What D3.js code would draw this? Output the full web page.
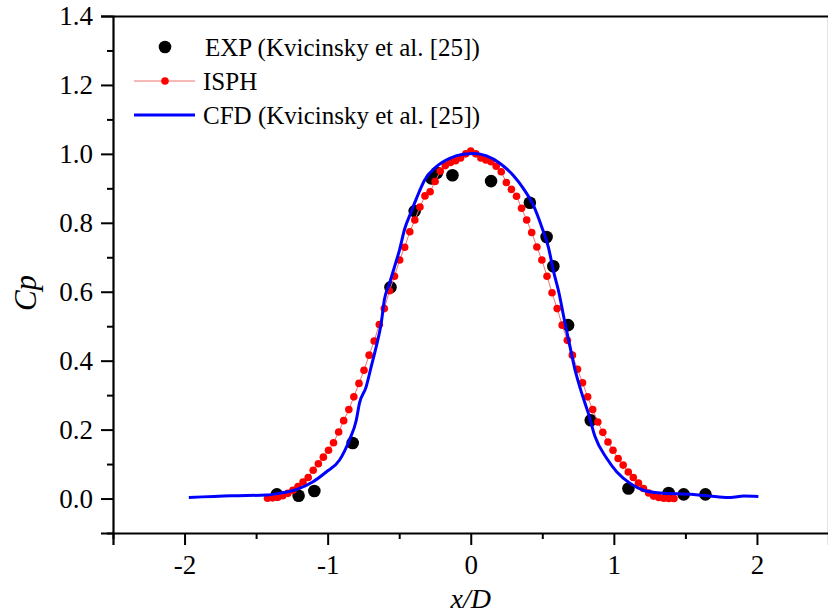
<!DOCTYPE html>
<html>
<head>
<meta charset="utf-8">
<script src="https://cdn.jsdelivr.net/npm/d3@7"></script>
<style>
  html, body { margin: 0; padding: 0; background: #fff; }
  svg { display: block; }
  text { font-family: "Liberation Serif", "Times New Roman", serif; fill: #000; }
</style>
</head>
<body>
<svg id="chart" width="828" height="615"></svg>
<script>
// ---------- data ----------
const expX = [-1.355, -1.203, -1.093, -0.825, -0.561, -0.392, -0.275, -0.236, -0.128, 0.142, 0.413, 0.530, 0.577, 0.680, 0.839, 1.102, 1.383, 1.488, 1.640];
const expY = [0.012, 0.008, 0.022, 0.161, 0.613, 0.834, 0.929, 0.945, 0.938, 0.921, 0.858, 0.759, 0.674, 0.503, 0.227, 0.029, 0.016, 0.012, 0.012];

const isphX = [-1.420, -1.385, -1.349, -1.314, -1.278, -1.243, -1.207, -1.172, -1.136, -1.101, -1.065, -1.030, -0.994, -0.959, -0.923, -0.888, -0.852, -0.817, -0.781, -0.746,
               -0.710, -0.675, -0.639, -0.604, -0.568, -0.533, -0.497, -0.462, -0.426, -0.391, -0.355, -0.320, -0.284, -0.249, -0.213, -0.178, -0.142, -0.106, -0.071, -0.035,
               0.000, 0.035, 0.071, 0.106, 0.142, 0.178, 0.213, 0.249, 0.284, 0.320, 0.355, 0.391, 0.426, 0.462, 0.497, 0.533, 0.568, 0.604, 0.639, 0.675,
               0.710, 0.746, 0.781, 0.817, 0.852, 0.888, 0.923, 0.959, 0.994, 1.030, 1.065, 1.101, 1.136, 1.172, 1.207, 1.243, 1.278, 1.314, 1.349, 1.385, 1.420];
const isphY = [0.001, 0.002, 0.004, 0.008, 0.015, 0.024, 0.035, 0.048, 0.061, 0.082, 0.101, 0.120, 0.140, 0.162, 0.193, 0.226, 0.258, 0.295, 0.334, 0.372,
               0.416, 0.457, 0.505, 0.551, 0.603, 0.645, 0.692, 0.729, 0.774, 0.808, 0.846, 0.878, 0.890, 0.920, 0.950, 0.966, 0.975, 0.980, 0.988, 1.000,
               1.008, 1.000, 0.988, 0.982, 0.977, 0.964, 0.948, 0.917, 0.897, 0.877, 0.842, 0.808, 0.772, 0.730, 0.692, 0.645, 0.597, 0.551, 0.503, 0.459,
               0.416, 0.375, 0.336, 0.295, 0.258, 0.222, 0.192, 0.164, 0.140, 0.116, 0.097, 0.077, 0.061, 0.045, 0.029, 0.016, 0.007, 0.003, 0.001, 0.000, 0.000];

const cfdX = [-1.97, -1.67, -1.43, -1.34, -1.22, -1.105, -1.01, -0.918, -0.848, -0.80, -0.778, -0.731, -0.696, -0.661, -0.626, -0.603, -0.568, -0.533, -0.498, -0.462,
              -0.416, -0.38, -0.322, -0.24, -0.147, -0.054, 0.028, 0.110, 0.203, 0.296, 0.367, 0.437, 0.496, 0.542, 0.582, 0.612, 0.659, 0.694, 0.729, 0.776,
              0.822, 0.869, 0.951, 1.021, 1.114, 1.207, 1.324, 1.558, 1.722, 1.815, 1.908, 2.01];
const cfdY = [0.003, 0.008, 0.010, 0.015, 0.026, 0.048, 0.077, 0.111, 0.170, 0.227, 0.276, 0.324, 0.382, 0.440, 0.508, 0.578, 0.624, 0.672, 0.721, 0.782,
              0.832, 0.870, 0.924, 0.963, 0.987, 0.999, 1.001, 0.994, 0.973, 0.938, 0.900, 0.851, 0.788, 0.730, 0.653, 0.605, 0.508, 0.440, 0.373, 0.305,
              0.247, 0.179, 0.116, 0.077, 0.044, 0.024, 0.016, 0.012, 0.005, 0.003, 0.007, 0.006];

const xMajor = [-2, -1, 0, 1, 2];
const xMinor = [-2.5, -1.5, -0.5, 0.5, 1.5, 2.5];
const yMajor = [0.0, 0.2, 0.4, 0.6, 0.8, 1.0, 1.2, 1.4];
const yMinor = [-0.1, 0.1, 0.3, 0.5, 0.7, 0.9, 1.1, 1.3];

const legendLabels = ["EXP (Kvicinsky et al. [25])", "ISPH", "CFD (Kvicinsky et al. [25])"];

// ---------- layout ----------
const svg = d3.select("#chart");
const L = 113, R = 828.5, T = 16, B = 533;
const x = d3.scaleLinear().domain([-2.5, 2.5]).range([L, R]);
const y = d3.scaleLinear().domain([-0.1, 1.4]).range([B, T]);

// axes
const axB = svg.append("g").attr("transform", `translate(0,${B})`)
  .call(d3.axisBottom(x).tickValues(xMajor).tickSize(12).tickPadding(10).tickFormat(d3.format("d")));
const axBm = svg.append("g").attr("transform", `translate(0,${B})`)
  .call(d3.axisBottom(x).tickValues(xMinor).tickSize(6).tickFormat(""));
const axL = svg.append("g").attr("transform", `translate(${L},0)`)
  .call(d3.axisLeft(y).tickValues(yMajor).tickSize(12).tickPadding(8).tickFormat(d3.format(".1f")));
const axLm = svg.append("g").attr("transform", `translate(${L},0)`)
  .call(d3.axisLeft(y).tickValues(yMinor).tickSize(6).tickFormat(""));
const axT = svg.append("g").attr("transform", `translate(0,${T})`)
  .call(d3.axisTop(x).tickValues([]).tickSizeOuter(0));
const axR = svg.append("g").attr("transform", `translate(${R},0)`)
  .call(d3.axisRight(y).tickValues([]).tickSizeOuter(0));

[axB, axBm, axL, axLm, axT, axR].forEach(g => {
  g.attr("font-family", null);
  g.selectAll(".domain").attr("stroke", "#000").attr("stroke-width", 2.2);
  g.selectAll(".tick line").attr("stroke", "#000").attr("stroke-width", 2);
  g.selectAll("text").attr("font-family", "Liberation Serif, serif").attr("font-size", 27).attr("fill", "#000");
});
axB.selectAll(".tick text").attr("dy", "0.72em");
axBm.select(".domain").remove(); axLm.select(".domain").remove();
axB.selectAll(".tick text").text(d => d < 0 ? "-" + Math.abs(d) : String(d));

// axis titles
svg.append("text").attr("x", x(0)).attr("y", 608).attr("text-anchor", "middle")
  .attr("font-size", 28).attr("font-style", "italic").text("x/D");
svg.append("text").attr("transform", "translate(36,293) rotate(-90)").attr("text-anchor", "middle")
  .attr("font-size", 31).attr("font-style", "italic").text("Cp");

// ---------- marks ----------
const plot = svg.append("g");
plot.selectAll("circle.exp").data(expX.map((v, i) => [v, expY[i]])).enter()
  .append("circle").attr("class", "exp")
  .attr("cx", d => x(d[0])).attr("cy", d => y(d[1])).attr("r", 6.3).attr("fill", "#000");

const isph = isphX.map((v, i) => [v, isphY[i]]);
plot.append("path").datum(isph)
  .attr("d", d3.line().x(d => x(d[0])).y(d => y(d[1])))
  .attr("fill", "none").attr("stroke", "#f07070").attr("stroke-width", 1);
plot.selectAll("circle.isph").data(isph).enter()
  .append("circle").attr("class", "isph")
  .attr("cx", d => x(d[0])).attr("cy", d => y(d[1])).attr("r", 3.8).attr("fill", "#ff0000");

plot.append("path").datum(cfdX.map((v, i) => [v, cfdY[i]]))
  .attr("d", d3.line().x(d => x(d[0])).y(d => y(d[1])).curve(d3.curveMonotoneX))
  .attr("fill", "none").attr("stroke", "#0000ff").attr("stroke-width", 3).attr("stroke-linejoin", "round");

// ---------- legend ----------
const lg = svg.append("g");
const rowsY = [47, 81, 115];
lg.append("circle").attr("cx", 165).attr("cy", rowsY[0]).attr("r", 6.3).attr("fill", "#000");
lg.append("line").attr("x1", 134).attr("x2", 195).attr("y1", rowsY[1]).attr("y2", rowsY[1])
  .attr("stroke", "#f07070").attr("stroke-width", 1);
lg.append("circle").attr("cx", 165).attr("cy", rowsY[1]).attr("r", 3.8).attr("fill", "#ff0000");
lg.append("line").attr("x1", 134).attr("x2", 195).attr("y1", rowsY[2]).attr("y2", rowsY[2])
  .attr("stroke", "#0000ff").attr("stroke-width", 3);
legendLabels.forEach((t, i) => {
  lg.append("text").attr("x", i === 0 ? 205 : 203).attr("y", rowsY[i] + 9).attr("font-size", 25).text(t);
});
</script>
</body>
</html>
